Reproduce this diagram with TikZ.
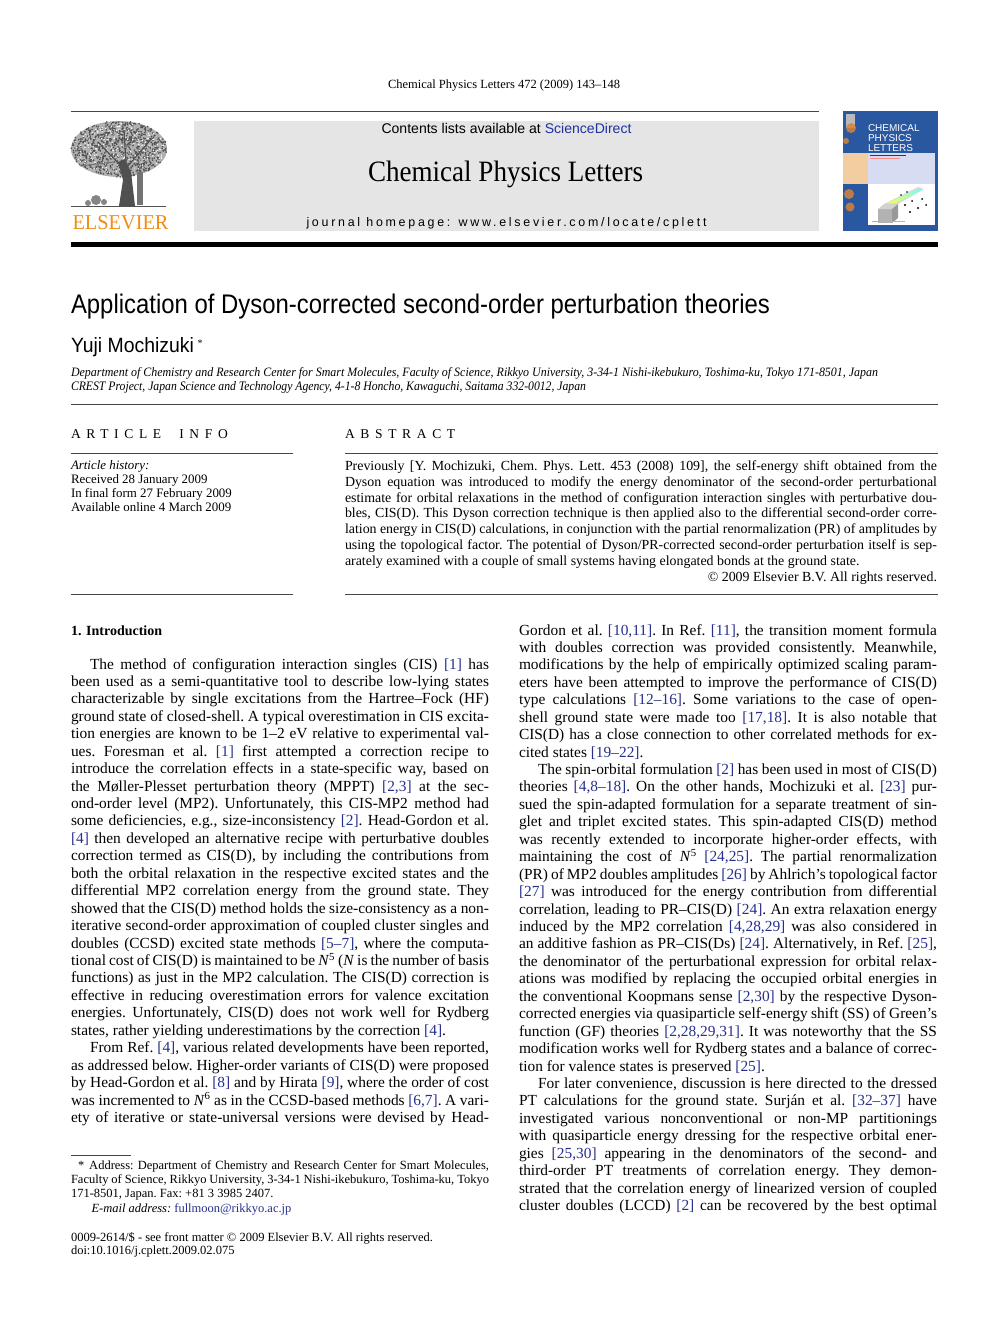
\documentclass[tikz,border=0pt]{standalone}
\usepackage{fontspec}
\usepackage{graphicx}
\setmainfont{Liberation Serif}
\setsansfont{Liberation Sans}
\newfontfamily\trackedsans[LetterSpace=22]{Liberation Sans}
\newfontfamily\trackedserif[LetterSpace=42]{Liberation Serif}
\definecolor{citeblue}{RGB}{38,48,140}
\definecolor{sdblue}{RGB}{30,50,160}
\definecolor{boxgray}{RGB}{229,229,229}
\definecolor{rulecol}{RGB}{70,70,70}
\definecolor{elsorange}{RGB}{242,140,20}
\definecolor{treegray}{RGB}{80,80,80}
\definecolor{coverblue}{RGB}{42,88,160}
\definecolor{coverpeach}{RGB}{242,205,160}
\definecolor{coverlav}{RGB}{214,220,242}
\definecolor{blobor}{RGB}{215,130,60}
\newcommand\jln[1]{\hbox to \hsize{#1}}
\newcommand\lastln[1]{\hbox{#1}}
\newcommand\pind{\hspace*{19pt}}
\newcommand\rf[1]{\textcolor{citeblue}{[#1]}}
\newcommand\Nsup[1]{\textit{N}\textsuperscript{#1}}
\newcommand\colfont{\fontsize{15.4}{17.44}\selectfont\frenchspacing\lineskiplimit=-100pt\lineskip=0pt\hsize=418pt\relax}
\newcommand\absfont{\fontsize{13.9}{15.83}\selectfont\frenchspacing\lineskiplimit=-100pt\lineskip=0pt\hsize=592pt\relax}
\newcommand\notefont{\fontsize{12.5}{14.4}\selectfont\frenchspacing\lineskiplimit=-100pt\lineskip=0pt\hsize=418pt\relax}
\begin{document}
\begin{tikzpicture}[x=1pt,y=-1pt,
  txt/.style={inner sep=0pt,outer sep=0pt,anchor=base west},
  hrule/.style={draw=rulecol,line width=0.8pt}]
\useasboundingbox (0,0) rectangle (992,1323);
\fill[white] (0,0) rectangle (992,1323);

% ---------- header ----------
\node[txt] (journalref) at (388,88) {\resizebox{232pt}{!}{\fontsize{11}{13}\selectfont Chemical Physics Letters 472 (2009) 143–148}};
\draw[hrule] (71,111) -- (819,111);
\fill[boxgray] (193.5,121) rectangle (819,230.5);
\node[txt] (contents) at (381.5,133) {\resizebox{250pt}{!}{\sffamily\fontsize{13}{15}\selectfont Contents lists available at \textcolor{sdblue}{ScienceDirect}}};
\node[txt] (jtitle) at (368,181) {\resizebox{275pt}{20.5pt}{\fontsize{26}{30}\selectfont Chemical Physics Letters}};
\node[txt] (homepage) at (306.5,226) {\resizebox{400pt}{!}{\trackedsans\fontsize{13}{15}\selectfont journal homepage: www.elsevier.com/locate/cplett}};
\fill[black] (71,242.3) rectangle (937.5,246.8);

% ---------- Elsevier logo ----------
\fill[treegray!45] (119,149) ellipse (48pt and 28pt);
\pgfmathsetseed{7}
\foreach \i in {1,...,800}{
  \pgfmathsetmacro\rr{sqrt(rnd)}
  \pgfmathsetmacro\aa{360*rnd}
  \fill[treegray] ({119+48*\rr*cos(\aa)},{149+28*\rr*sin(\aa)}) circle (0.9pt);
}
\foreach \i in {1,...,220}{
  \pgfmathsetmacro\rr{sqrt(rnd)}
  \pgfmathsetmacro\aa{360*rnd}
  \fill[white] ({119+46*\rr*cos(\aa)},{149+26*\rr*sin(\aa)}) circle (0.7pt);
}
\fill[treegray] (119,206) -- (123,180) -- (118,162) -- (125,159) -- (131,172) -- (135,206) -- cycle;
\draw[treegray,line width=1.2pt] (123,168) -- (98,142) (128,166) -- (152,138) (126,162) -- (124,130);
\fill[treegray!80] (137,172) rectangle (143,205);
\fill[treegray!70] (96,200) circle (5pt) (88,203) circle (3pt) (104,202) circle (3pt);
\draw[treegray!80,line width=1pt] (80,166) -- (114,162);
\draw[treegray,line width=1.3pt] (71,206.5) -- (166,206.5);
\node[txt] (elsevier) at (72.5,229) {\resizebox{96pt}{14pt}{\textcolor{elsorange}{ELSEVIER}}};

% ---------- cover ----------
\fill[coverblue] (842.5,110.5) rectangle (937.5,231);
\fill[gray!55] (846,114) rectangle (855,128);
\fill[blobor,opacity=0.85] (851,128) circle (5pt) (846,141) circle (3pt) (856,172) circle (4pt) (849,194) circle (5pt) (850,207) circle (4.5pt);
\fill[coverpeach] (842.5,153) rectangle (868,184);
\fill[coverlav] (868,153) rectangle (935,184);
\fill[white] (868,184) rectangle (935,224.5);
\node[txt] (covchem) at (868,131) {\sffamily\fontsize{10}{10}\selectfont\textcolor{white}{CHEMICAL}};
\node[txt] (covphys) at (868,141) {\sffamily\fontsize{10}{10}\selectfont\textcolor{white}{PHYSICS}};
\node[txt] (covlett) at (868,151) {\sffamily\fontsize{10}{10}\selectfont\textcolor{white}{LETTERS}};
\draw[red!75!black,line width=0.7pt] (870,155.5) -- (906,155.5);
\draw[red!45,line width=0.5pt] (870,158.5) -- (900,158.5);
\fill[gray!30] (884,204) -- (898,204) -- (924,189) -- (918,187) -- cycle;
\shade[left color=yellow!70,right color=cyan!60] (888,203) -- (896,203) -- (922,190) -- (918,189) -- cycle;
\fill[gray!60] (878,209) rectangle (892,223);
\fill[gray!35] (878,209) -- (884,204) -- (898,204) -- (892,209) -- cycle;
\fill[gray!80] (892,209) -- (898,204) -- (898,218) -- (892,223) -- cycle;
\fill[black] (905,205) circle (1.1pt) (912,201) circle (1pt) (918,208) circle (1.2pt) (922,199) circle (1pt) (901,195) circle (0.9pt) (910,212) circle (1.1pt) (926,205) circle (1pt) (907,192) circle (0.8pt);
\draw[gray!60,line width=0.5pt] (872,221.5) -- (905,221.5);

% ---------- title block ----------
\node[txt] (title) at (71,313.5) {\resizebox{699pt}{19.5pt}{\sffamily Application of Dyson-corrected second-order perturbation theories}};
\node[txt] (author) at (71,352) {\resizebox{123pt}{15pt}{\sffamily Yuji Mochizuki}};
\node[txt] (authstar) at (197.5,346) {\fontsize{10}{10}\selectfont *};
\node[txt] (aff1) at (71,376) {\resizebox{807pt}{9pt}{\itshape Department of Chemistry and Research Center for Smart Molecules, Faculty of Science, Rikkyo University, 3-34-1 Nishi-ikebukuro, Toshima-ku, Tokyo 171-8501, Japan}};
\node[txt] (aff2) at (71,390) {\resizebox{515pt}{9pt}{\itshape CREST Project, Japan Science and Technology Agency, 4-1-8 Honcho, Kawaguchi, Saitama 332-0012, Japan}};
\draw[hrule] (71,404) -- (937.5,404);

% ---------- article info / abstract ----------
\node[txt] (infohead) at (71,438) {\trackedserif\fontsize{13.5}{15}\selectfont ARTICLE\ \ INFO};
\node[txt] (abshead) at (345,438) {\trackedserif\fontsize{13.5}{15}\selectfont ABSTRACT};
\draw[hrule] (71,453.3) -- (293,453.3);
\draw[hrule] (345,453.3) -- (937.5,453.3);
\draw[hrule] (71,594.5) -- (293,594.5);
\draw[hrule] (345,594.5) -- (937.5,594.5);
\node[txt] (history) at (71,469.5) {\vtop{\fontsize{12.9}{13.9}\selectfont\lineskiplimit=-100pt\lineskip=0pt
  \lastln{\textit{Article history:}}
  \lastln{Received 28 January 2009}
  \lastln{In final form 27 February 2009}
  \lastln{Available online 4 March 2009}}};
\node[txt] (abstract) at (345,470.5) {\vtop{\absfont
  \jln{Previously [Y. Mochizuki, Chem. Phys. Lett. 453 (2008) 109], the self-energy shift obtained from the}
  \jln{Dyson equation was introduced to modify the energy denominator of the second-order perturbational}
  \jln{estimate for orbital relaxations in the method of configuration interaction singles with perturbative dou-}
  \jln{bles, CIS(D). This Dyson correction technique is then applied also to the differential second-order corre-}
  \jln{lation energy in CIS(D) calculations, in conjunction with the partial renormalization (PR) of amplitudes by}
  \jln{using the topological factor. The potential of Dyson/PR-corrected second-order perturbation itself is sep-}
  \lastln{arately examined with a couple of small systems having elongated bonds at the ground state.}
  \jln{\hfill © 2009 Elsevier B.V. All rights reserved.}}};

% ---------- body ----------
\node[txt] (introhead) at (71,635) {\fontsize{14}{16}\selectfont\bfseries 1. Introduction};
\node[txt] (leftcol) at (71,669) {\vtop{\colfont
  \jln{\pind The method of configuration interaction singles (CIS) \rf{1} has}
  \jln{been used as a semi-quantitative tool to describe low-lying states}
  \jln{characterizable by single excitations from the Hartree–Fock (HF)}
  \jln{ground state of closed-shell. A typical overestimation in CIS excita-}
  \jln{tion energies are known to be 1–2 eV relative to experimental val-}
  \jln{ues. Foresman et al. \rf{1} first attempted a correction recipe to}
  \jln{introduce the correlation effects in a state-specific way, based on}
  \jln{the Møller-Plesset perturbation theory (MPPT) \rf{2,3} at the sec-}
  \jln{ond-order level (MP2). Unfortunately, this CIS-MP2 method had}
  \jln{some deficiencies, e.g., size-inconsistency \rf{2}. Head-Gordon et al.}
  \jln{\rf{4} then developed an alternative recipe with perturbative doubles}
  \jln{correction termed as CIS(D), by including the contributions from}
  \jln{both the orbital relaxation in the respective excited states and the}
  \jln{differential MP2 correlation energy from the ground state. They}
  \jln{showed that the CIS(D) method holds the size-consistency as a non-}
  \jln{iterative second-order approximation of coupled cluster singles and}
  \jln{doubles (CCSD) excited state methods \rf{5–7}, where the computa-}
  \jln{tional cost of CIS(D) is maintained to be \Nsup{5} (\textit{N} is the number of basis}
  \jln{functions) as just in the MP2 calculation. The CIS(D) correction is}
  \jln{effective in reducing overestimation errors for valence excitation}
  \jln{energies. Unfortunately, CIS(D) does not work well for Rydberg}
  \lastln{states, rather yielding underestimations by the correction \rf{4}.}
  \jln{\pind From Ref. \rf{4}, various related developments have been reported,}
  \jln{as addressed below. Higher-order variants of CIS(D) were proposed}
  \jln{by Head-Gordon et al. \rf{8} and by Hirata \rf{9}, where the order of cost}
  \jln{was incremented to \Nsup{6} as in the CCSD-based methods \rf{6,7}. A vari-}
  \jln{ety of iterative or state-universal versions were devised by Head-}}};
\node[txt] (rightcol) at (519,635) {\vtop{\colfont
  \jln{Gordon et al. \rf{10,11}. In Ref. \rf{11}, the transition moment formula}
  \jln{with doubles correction was provided consistently. Meanwhile,}
  \jln{modifications by the help of empirically optimized scaling param-}
  \jln{eters have been attempted to improve the performance of CIS(D)}
  \jln{type calculations \rf{12–16}. Some variations to the case of open-}
  \jln{shell ground state were made too \rf{17,18}. It is also notable that}
  \jln{CIS(D) has a close connection to other correlated methods for ex-}
  \lastln{cited states \rf{19–22}.}
  \jln{\pind The spin-orbital formulation \rf{2} has been used in most of CIS(D)}
  \jln{theories \rf{4,8–18}. On the other hands, Mochizuki et al. \rf{23} pur-}
  \jln{sued the spin-adapted formulation for a separate treatment of sin-}
  \jln{glet and triplet excited states. This spin-adapted CIS(D) method}
  \jln{was recently extended to incorporate higher-order effects, with}
  \jln{maintaining the cost of \Nsup{5} \rf{24,25}. The partial renormalization}
  \jln{(PR) of MP2 doubles amplitudes \rf{26} by Ahlrich's topological factor}
  \jln{\rf{27} was introduced for the energy contribution from differential}
  \jln{correlation, leading to PR–CIS(D) \rf{24}. An extra relaxation energy}
  \jln{induced by the MP2 correlation \rf{4,28,29} was also considered in}
  \jln{an additive fashion as PR–CIS(Ds) \rf{24}. Alternatively, in Ref. \rf{25},}
  \jln{the denominator of the perturbational expression for orbital relax-}
  \jln{ations was modified by replacing the occupied orbital energies in}
  \jln{the conventional Koopmans sense \rf{2,30} by the respective Dyson-}
  \jln{corrected energies via quasiparticle self-energy shift (SS) of Green's}
  \jln{function (GF) theories \rf{2,28,29,31}. It was noteworthy that the SS}
  \jln{modification works well for Rydberg states and a balance of correc-}
  \lastln{tion for valence states is preserved \rf{25}.}
  \jln{\pind For later convenience, discussion is here directed to the dressed}
  \jln{PT calculations for the ground state. Surján et al. \rf{32–37} have}
  \jln{investigated various nonconventional or non-MP partitionings}
  \jln{with quasiparticle energy dressing for the respective orbital ener-}
  \jln{gies \rf{25,30} appearing in the denominators of the second- and}
  \jln{third-order PT treatments of correlation energy. They demon-}
  \jln{strated that the correlation energy of linearized version of coupled}
  \jln{cluster doubles (LCCD) \rf{2} can be recovered by the best optimal}}};

% ---------- footnote ----------
\draw[rulecol,line width=0.6pt] (71,1155) -- (131,1155);
\node[txt] (footnote) at (71,1169) {\vtop{\notefont
  \jln{\hspace*{7pt}*\hspace*{5pt}Address: Department of Chemistry and Research Center for Smart Molecules,}
  \jln{Faculty of Science, Rikkyo University, 3-34-1 Nishi-ikebukuro, Toshima-ku, Tokyo}
  \lastln{171-8501, Japan. Fax: +81 3 3985 2407.}
  \lastln{\hspace*{20.5pt}\textit{E-mail address:} \textcolor{citeblue}{fullmoon@rikkyo.ac.jp}}}};
\node[txt] (frontmatter) at (71,1241) {\vtop{\notefont\baselineskip=13.6pt
  \lastln{0009-2614/\$ - see front matter © 2009 Elsevier B.V. All rights reserved.}
  \lastln{doi:10.1016/j.cplett.2009.02.075}}};
\end{tikzpicture}
\end{document}
